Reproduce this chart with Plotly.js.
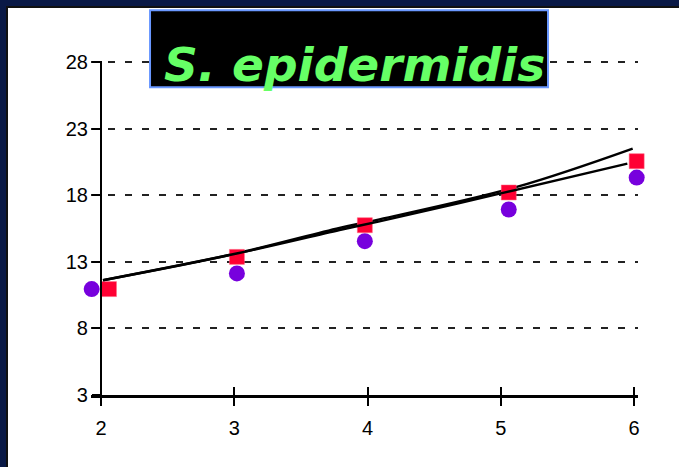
<!DOCTYPE html>
<html>
<head>
<meta charset="utf-8">
<script src="https://cdn.plot.ly/plotly-3.0.1.min.js"></script>
<style>
  html, body { margin: 0; padding: 0; width: 679px; height: 467px; overflow: hidden; background: #0a1946; }
  #chart { position: absolute; left: 6px; top: 6px; width: 671px; height: 459px;
           border-left: 2px solid #111; border-top: 2px solid #111; background: #fff; }
</style>
</head>
<body>
<div id="chart"></div>
<script>
// Data
const circleX = [1.93, 3.02, 3.98, 5.06, 6.02];
const circleY = [10.96, 12.14, 14.56, 16.94, 19.34];
const squareX = [2.06, 3.02, 3.98, 5.06, 6.02];
const squareY = [10.96, 13.38, 15.76, 18.22, 20.57];
// Upper trend line (curved) and lower trend line
const trendAX = [2.015, 3.0, 3.79, 4.09, 5.12, 5.99];
const trendAY = [11.63, 13.6, 15.55, 16.2, 18.64, 21.52];
const trendBX = [2.015, 3.0, 3.79, 4.09, 5.0, 5.95];
const trendBY = [11.63, 13.6, 15.4, 16.05, 18.15, 20.39];
const xTicks = [2, 3, 4, 5, 6];
const yTicks = [3, 8, 13, 18, 23, 28];
const titleText = "S. epidermidis";

const xRange = [1.925, 6.03];
const yRange = [3, 28.1];

const tickFont = { family: 'Liberation Sans, Arial, sans-serif', size: 20, color: '#000' };

const traces = [
  { x: trendAX, y: trendAY, mode: 'lines', type: 'scatter', line: { color: '#000', width: 2.5, shape: 'spline' }, hoverinfo: 'skip', cliponaxis: false },
  { x: trendBX, y: trendBY, mode: 'lines', type: 'scatter', xaxis: 'x2', line: { color: '#000', width: 2.5, shape: 'spline' }, hoverinfo: 'skip', cliponaxis: false },
  { x: circleX, y: circleY, mode: 'markers', type: 'scatter', marker: { symbol: 'circle', size: 16, color: '#7700dd', line: { width: 0 } }, cliponaxis: false },
  { x: squareX, y: squareY, mode: 'markers', type: 'scatter', marker: { symbol: 'square', size: 15, color: '#ff0033', line: { width: 0.5, color: '#ff6680' } }, cliponaxis: false }
];

const layout = {
  width: 671, height: 459,
  margin: { l: 83, r: 41, t: 52.7, b: 72 },
  paper_bgcolor: '#ffffff', plot_bgcolor: '#ffffff',
  showlegend: false,
  font: tickFont,
  xaxis: {
    range: xRange, tickvals: xTicks, ticktext: xTicks.map(String), tickfont: tickFont,
    showline: true, linecolor: '#000', linewidth: 2.5,
    ticks: 'outside', ticklen: 8, tickwidth: 2, tickcolor: '#000',
    showgrid: false, zeroline: false, ticklabelstandoff: 5
  },
  xaxis2: {
    range: xRange, overlaying: 'x', anchor: 'y', side: 'bottom', tickvals: xTicks,
    ticks: 'inside', ticklen: 8, tickwidth: 2, tickcolor: '#000',
    showticklabels: false, showgrid: false, zeroline: false, showline: false
  },
  yaxis: {
    range: yRange, tickvals: yTicks, ticktext: yTicks.map(String), tickfont: tickFont,
    anchor: 'free', position: 0.075 / 4.105,
    showline: true, linecolor: '#000', linewidth: 2.5,
    ticks: 'outside', ticklen: 8, tickwidth: 2, tickcolor: '#000',
    showgrid: true, gridcolor: '#222', gridwidth: 2, griddash: '7px,10px',
    zeroline: false
  },
  shapes: [
    { type: 'rect', xref: 'paper', yref: 'paper', x0: 0.1079, x1: 0.8355, y0: 0.9213, y1: 1.1517,
      fillcolor: '#000', line: { color: '#6a98ff', width: 2 }, layer: 'above' }
  ],
  annotations: [
    { text: '<b><i>' + titleText + '</i></b>', xref: 'paper', yref: 'paper', x: 0.4826, y: 0.99,
      xanchor: 'center', yanchor: 'middle', showarrow: false,
      font: { family: 'DejaVu Sans', size: 47, color: '#66ff66' } }
  ]
};

Plotly.newPlot('chart', traces, layout, { displayModeBar: false, staticPlot: true });
</script>
</body>
</html>
